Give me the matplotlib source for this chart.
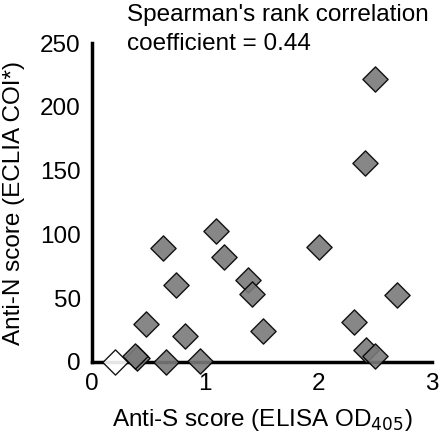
import matplotlib
matplotlib.use("Agg")
import matplotlib.pyplot as plt

plt.rcParams['font.family'] = ['Liberation Sans', 'DejaVu Sans']

anti_s = [0.40, 0.38, 0.48, 0.63, 0.65, 0.74, 0.82, 0.95, 1.09, 1.165, 1.38, 1.415,
          1.51, 2.00, 2.31, 2.42, 2.50, 2.69, 2.50, 2.41]
anti_n = [3, 5, 30, 89, 0, 60.5, 20.5, 1, 103, 82.5, 64.5, 53,
          24, 90, 31, 9, 5, 52.7, 222, 156]
neg_s = [0.20]
neg_n = [0]

x_ticks = [0, 1, 2, 3]
y_ticks = [0, 50, 100, 150, 200, 250]

FS = 17.5

fig = plt.figure(figsize=(4.4, 4.36), dpi=100)
ax = fig.add_axes([0.209, 0.170, 0.773, 0.731])

ax.scatter(anti_s, anti_n, marker='D', s=165, facecolor='#7a7a7a', edgecolor='black',
           linewidth=1.0, alpha=0.9, clip_on=False, zorder=3)
ax.scatter(neg_s, neg_n, marker='D', s=165, facecolor='white', edgecolor='black',
           linewidth=1.0, alpha=0.9, clip_on=False, zorder=3)

ax.set_xlim(0, 3)
ax.set_ylim(0, 250)
ax.set_xticks(x_ticks)
ax.set_yticks(y_ticks)
ax.tick_params(axis='y', length=0, labelsize=FS, pad=8)
ax.tick_params(axis='x', length=0, labelsize=FS, pad=8)
for s in ['top', 'right']:
    ax.spines[s].set_visible(False)
for s in ['left', 'bottom']:
    ax.spines[s].set_linewidth(2.5)

ax.set_xlabel('Anti-S score (ELISA OD$_{405}$)', fontsize=FS, labelpad=9)
ax.set_ylabel('Anti-N score (ECLIA COI*)', fontsize=FS, labelpad=11)

fig.text(0.289, 1 - 20.5 / 436, "Spearman's rank correlation",
         fontsize=FS, va='baseline', ha='left')
fig.text(0.289, 1 - 50 / 436, "coefficient = 0.44",
         fontsize=FS, va='baseline', ha='left')

fig.savefig('out.png', dpi=100)
